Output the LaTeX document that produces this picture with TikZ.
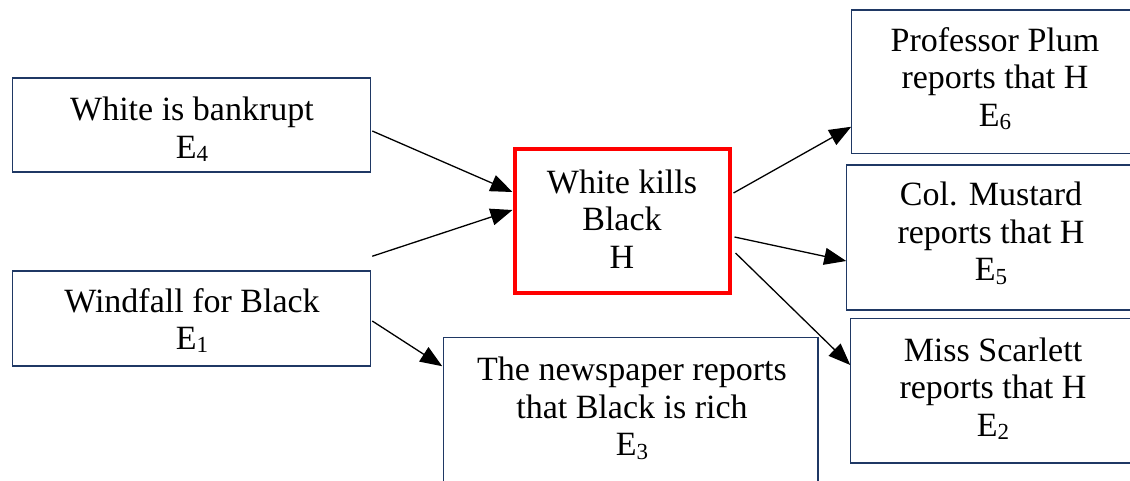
\documentclass[tikz,border=0pt]{standalone}
\usepackage{fontspec}
\setmainfont{Liberation Serif}
\usetikzlibrary{arrows.meta}
\definecolor{boxblue}{RGB}{31,56,100}
\definecolor{hred}{RGB}{255,0,0}
\newcommand{\esub}[1]{\raisebox{-0.22ex}{\fontsize{23}{23}\selectfont #1}}
\tikzset{
  txt/.style={font=\fontsize{34}{37.5}\selectfont, align=center, text=black, inner sep=0pt},
  evbox/.style={draw=boxblue, line width=1.5pt, inner sep=0pt},
  evarea/.style={inner sep=0pt, outer sep=0.75pt},
  evline/.style={draw=boxblue, line width=1.5pt},
  hypbox/.style={draw=hred, line width=4pt, inner sep=0pt},
  arr/.style={line width=1.3pt, -{Triangle[length=22pt,width=17pt]}}
}
\begin{document}
\begin{tikzpicture}[x=1pt,y=-1pt]
\useasboundingbox (0,0) rectangle (1130,481);
\clip (0,0) rectangle (1130,481);
% boxes
\node[evbox, minimum width=358pt, minimum height=94pt] (e4) at (191.5,125) {};
\node[evbox, minimum width=358pt, minimum height=95pt] (e1) at (191.5,318.5) {};
\node[hypbox, minimum width=215pt, minimum height=143pt] (h) at (622,221) {};
\node[evarea, minimum width=320pt, minimum height=142pt] (e6) at (1012,82) {};
\node[evarea, minimum width=320pt, minimum height=143pt] (e5) at (1007,237.5) {};
\node[evarea, minimum width=320pt, minimum height=143pt] (e2) at (1011,390.5) {};
\node[evarea, minimum width=373pt, minimum height=180pt] (e3) at (630.5,428) {};
\foreach \b in {e6,e5,e2}
  \draw[evline] (\b.north east) -- (\b.north west) -- (\b.south west) -- (\b.south east);
\draw[evline] (e3.south west) -- (e3.north west) -- (e3.north east) -- (e3.south east);
% texts
\node[txt] (t4) at (192,129.5) {White is bankrupt\\E\esub{4}};
\node[txt] (t1) at (192,320.5) {Windfall for Black\\E\esub{1}};
\node[txt] (th) at (622,219) {White kills\\Black\\H};
\node[txt] (t6) at (995,78.5) {Professor Plum\\reports that H\\E\esub{6}};
\node[txt] (t5) at (991,233.5) {Col. Mustard\\reports that H\\E\esub{5}};
\node[txt] (t2) at (993,388.5) {Miss Scarlett\\reports that H\\E\esub{2}};
\node[txt] (t3) at (632,408.5) {The newspaper reports\\that Black is rich\\E\esub{3}};
% connectors
\coordinate (e1free) at ([xshift=1pt,yshift=14pt]e1.north east);
\draw[arr] ([xshift=1pt,yshift=-6pt]e4.east) -- ([yshift=29pt]h.west);
\draw[arr] (e1free) -- ([yshift=11pt]h.west);
\draw[arr] ([xshift=1pt,yshift=-2.5pt]e1.east) -- ([xshift=-1pt,yshift=-29pt]e3.north west);
\draw[arr] ([xshift=2pt,yshift=28pt]h.east) -- ([yshift=27pt]e6.south west);
\draw[arr] ([xshift=3pt,yshift=-16pt]h.east) -- ([yshift=-23.5pt]e5.west);
\draw[arr] ([xshift=4pt,yshift=-32pt]h.east) -- ([yshift=25.5pt]e2.west);
\end{tikzpicture}
\end{document}
